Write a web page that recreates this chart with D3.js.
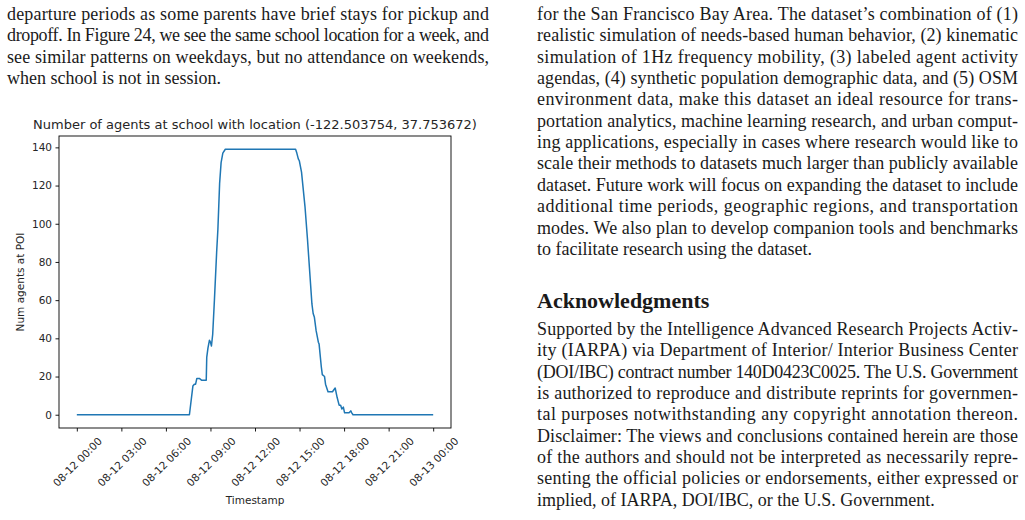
<!DOCTYPE html>
<html>
<head>
<meta charset="utf-8">
<script src="https://cdn.jsdelivr.net/npm/d3@7"></script>
<style>
  html, body { margin: 0; padding: 0; background: #fff; }
  svg { display: block; }
  .body-text { font-family: "Liberation Serif", "DejaVu Serif", serif; font-size: 18px; fill: #1a1a1a; }
  .heading { font-family: "Liberation Serif", serif; font-size: 22px; font-weight: bold; fill: #1a1a1a; }
  .chart text { font-family: "DejaVu Sans", sans-serif; fill: #262626; }
</style>
</head>
<body>
<div id="wrapper"></div>
<script>
// series
const times = [
    '08-12 00:00', '08-12 07:35', '08-12 07:49', '08-12 07:55', '08-12 08:00', '08-12 08:05', '08-12 08:15',
    '08-12 08:25', '08-12 08:43', '08-12 08:45', '08-12 08:50', '08-12 08:56', '08-12 09:00', '08-12 09:04',
    '08-12 09:09', '08-12 09:16', '08-12 09:25', '08-12 09:30', '08-12 09:37', '08-12 09:43', '08-12 09:50',
    '08-12 10:00', '08-12 14:44', '08-12 14:49', '08-12 14:55', '08-12 14:59', '08-12 15:08', '08-12 15:22',
    '08-12 15:32', '08-12 15:50', '08-12 15:55', '08-12 16:00', '08-12 16:07', '08-12 16:16', '08-12 16:19',
    '08-12 16:28', '08-12 16:32', '08-12 16:41', '08-12 16:45', '08-12 16:55', '08-12 17:13', '08-12 17:24',
    '08-12 17:32', '08-12 17:40', '08-12 17:46', '08-12 17:51', '08-12 17:57', '08-12 18:02', '08-12 18:20',
    '08-12 18:27', '08-12 18:31', '08-12 18:36', '08-13 00:00'
]
const agents = [
    0, 0, 15, 16, 16, 19, 19, 18, 18, 30, 35, 39, 38, 36, 42, 60, 85, 97, 121, 132,
    137, 139, 139, 137, 134, 133, 127, 109, 92, 58, 53, 51, 44, 38, 37, 25, 21, 20, 16, 12,
    12, 14, 9, 5, 5, 3, 4, 1, 1, 2, 1, 0, 0
]
const yTicks = [0, 20, 40, 60, 80, 100, 120, 140]
const xTickTimes = ['08-12 00:00', '08-12 03:00', '08-12 06:00', '08-12 09:00', '08-12 12:00',
    '08-12 15:00', '08-12 18:00', '08-12 21:00', '08-13 00:00']

const chartTitle = 'Number of agents at school with location (-122.503754, 37.753672)'
const yLabel = 'Num agents at POI'
const xLabel = 'Timestamp'

// page text around the figure
const leftLines = [
    'departure periods as some parents have brief stays for pickup and',
    'dropoff. In Figure 24, we see the same school location for a week, and',
    'see similar patterns on weekdays, but no attendance on weekends,',
    'when school is not in session.'
]
const rightLines = [
    'for the San Francisco Bay Area. The dataset\u2019s combination of (1)',
    'realistic simulation of needs-based human behavior, (2) kinematic',
    'simulation of 1Hz frequency mobility, (3) labeled agent activity',
    'agendas, (4) synthetic population demographic data, and (5) OSM',
    'environment data, make this dataset an ideal resource for trans-',
    'portation analytics, machine learning research, and urban comput-',
    'ing applications, especially in cases where research would like to',
    'scale their methods to datasets much larger than publicly available',
    'dataset. Future work will focus on expanding the dataset to include',
    'additional time periods, geographic regions, and transportation',
    'modes. We also plan to develop companion tools and benchmarks',
    'to facilitate research using the dataset.'
]
const ackHeading = 'Acknowledgments'
const ackLines = [
    'Supported by the Intelligence Advanced Research Projects Activ-',
    'ity (IARPA) via Department of Interior/ Interior Business Center',
    '(DOI/IBC) contract number 140D0423C0025. The U.S. Government',
    'is authorized to reproduce and distribute reprints for governmen-',
    'tal purposes notwithstanding any copyright annotation thereon.',
    'Disclaimer: The views and conclusions contained herein are those',
    'of the authors and should not be interpreted as necessarily repre-',
    'senting the official policies or endorsements, either expressed or',
    'implied, of IARPA, DOI/IBC, or the U.S. Government.'
]

const width = 1025
const height = 520

const svg = d3.select('#wrapper').append('svg')
    .attr('width', width)
    .attr('height', height)

// justified paragraph lines; the last line of a paragraph stays ragged
function paragraph(lines, x, y0, w, lead) {
    lines.forEach((line, i) => {
        const t = svg.append('text')
            .attr('class', 'body-text')
            .attr('x', x)
            .attr('y', y0 + i * lead)
            .text(line)
        if (i < lines.length - 1) {
            t.attr('textLength', w).attr('lengthAdjust', 'spacing')
        }
    })
}

paragraph(leftLines, 7, 20, 482, 21.35)
paragraph(rightLines, 537, 20, 481, 21.35)
svg.append('text')
    .attr('class', 'heading')
    .attr('x', 537)
    .attr('y', 308)
    .text(ackHeading)
paragraph(ackLines, 537, 335, 481, 21.35)

// chart
let dims = { left: 59, right: 451, top: 136, bottom: 428 }

const parse = d3.timeParse('%m-%d %H:%M')
const data = times.map((t, i) => ({ date: parse(t), value: agents[i] }))

const t0 = parse(times[0])
const t1 = parse(times[times.length - 1])
const pad = (t1 - t0) * 0.05

const xScale = d3.scaleTime()
    .domain([new Date(+t0 - pad), new Date(+t1 + pad)])
    .range([dims.left, dims.right])

const yMax = d3.max(agents)
const yScale = d3.scaleLinear()
    .domain([-yMax * 0.05, yMax * 1.05])
    .range([dims.bottom, dims.top])

const chart = svg.append('g').attr('class', 'chart')

const lineGen = d3.line()
    .x(d => xScale(d.date))
    .y(d => yScale(d.value))

chart.append('path')
    .datum(data)
    .attr('d', lineGen)
    .attr('fill', 'none')
    .attr('stroke', '#1f77b4')
    .attr('stroke-width', 1.5)
    .attr('stroke-linejoin', 'round')

chart.append('rect')
    .attr('x', dims.left)
    .attr('y', dims.top)
    .attr('width', dims.right - dims.left)
    .attr('height', dims.bottom - dims.top)
    .attr('fill', 'none')
    .attr('stroke', '#000')
    .attr('stroke-width', 0.9)

const yAxis = d3.axisLeft(yScale)
    .tickValues(yTicks)
    .tickSize(3.5)
    .tickPadding(3.5)
const yG = chart.append('g')
    .attr('transform', `translate(${dims.left},0)`)
    .call(yAxis)
yG.select('.domain').remove()
yG.selectAll('.tick line').attr('stroke', '#000').attr('stroke-width', 0.9)
yG.selectAll('.tick text').style('font-size', '10.5px').style('font-family', '"DejaVu Sans", sans-serif').attr('fill', '#262626')

const fmt = d3.timeFormat('%m-%d %H:%M')
const xAxis = d3.axisBottom(xScale)
    .tickValues(xTickTimes.map(parse))
    .tickFormat(fmt)
    .tickSize(3.5)
const xG = chart.append('g')
    .attr('transform', `translate(0,${dims.bottom})`)
    .call(xAxis)
xG.select('.domain').remove()
xG.selectAll('.tick line').attr('stroke', '#000').attr('stroke-width', 0.9)
xG.selectAll('.tick text')
    .style('font-size', '10.5px')
    .style('font-family', '"DejaVu Sans", sans-serif')
    .attr('fill', '#262626')
    .attr('text-anchor', 'middle')
    .attr('dy', null)
    .attr('dominant-baseline', 'central')
    .each(function () {
        const w = this.getComputedTextLength()
        const h = 11.5
        const half = (w + h) / (2 * Math.SQRT2)
        d3.select(this)
            .attr('y', null)
            .attr('transform', `translate(0,${7 + half}) rotate(-45)`)
    })

chart.append('text')
    .attr('x', (dims.left + dims.right) / 2)
    .attr('y', dims.top - 7)
    .attr('text-anchor', 'middle')
    .style('font-size', '13px')
    .text(chartTitle)

chart.append('text')
    .attr('x', (dims.left + dims.right) / 2)
    .attr('y', 504)
    .attr('text-anchor', 'middle')
    .style('font-size', '10.5px')
    .text(xLabel)

chart.append('text')
    .attr('transform', `translate(24,${(dims.top + dims.bottom) / 2}) rotate(-90)`)
    .attr('text-anchor', 'middle')
    .style('font-size', '10.5px')
    .text(yLabel)
</script>
</body>
</html>
